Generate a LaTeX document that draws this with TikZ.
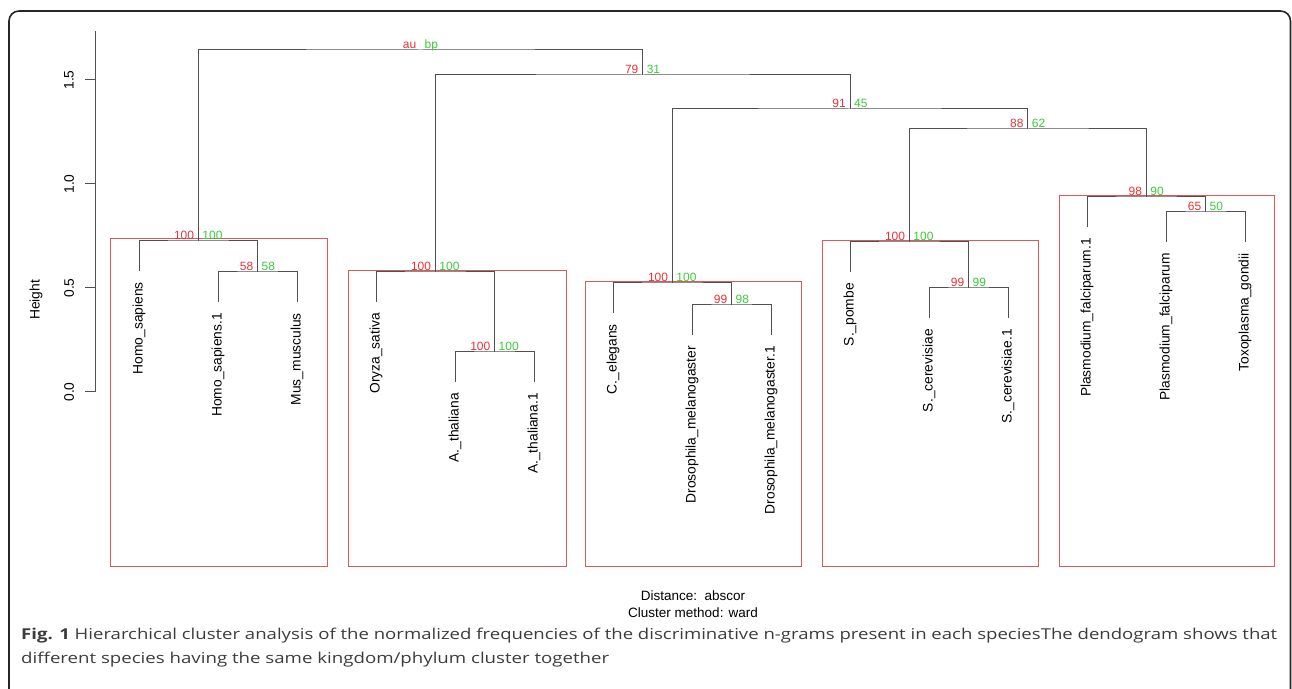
\documentclass[tikz,border=0pt]{standalone}
\usepackage{graphicx}
\usepackage{fontspec}
\setmainfont{Liberation Sans}
\newfontfamily\capfont{Open Sans}
\definecolor{treegray}{RGB}{80,80,80}
\definecolor{aured}{RGB}{232,50,55}
\definecolor{bpgreen}{RGB}{55,205,55}
\definecolor{boxred}{RGB}{220,90,90}
\definecolor{captext}{RGB}{60,60,60}
\tikzset{dendro/.style={draw=treegray,line width=1pt},
  leaflab/.style={rotate=90,anchor=east,inner sep=0pt,font=\fontsize{13.8}{16}\selectfont},
  aulab/.style={anchor=base east,inner sep=0pt,xshift=-4pt,yshift=1.5pt,text=aured,font=\fontsize{12}{14}\selectfont},
  bplab/.style={anchor=base west,inner sep=0pt,xshift=4pt,yshift=1.5pt,text=bpgreen,font=\fontsize{12}{14}\selectfont},
  clusterbox/.style={draw=boxred,line width=0.9pt},
  ticklab/.style={rotate=90,inner sep=0pt,font=\fontsize{13.8}{16}\selectfont},
  caption/.style={anchor=base west,inner sep=0pt,text=captext,font=\capfont\fontsize{15}{18}\selectfont}}

\begin{document}
\begin{tikzpicture}[x=1pt,y=1pt]
\useasboundingbox (0,0) rectangle (1292,688);
\draw[line width=1.6pt,black!85,rounded corners=10pt] (9,-5) -- (9,677) -- (1290.5,677) -- (1290.5,-5);

% axis
\draw[dendro] (95,296) -- (95,657);
\draw[dendro] (85,296) -- (95,296);
\draw[dendro] (85,400) -- (95,400);
\draw[dendro] (85,504) -- (95,504);
\draw[dendro] (85,608) -- (95,608);
\node[ticklab] (y0) at (69,296) {0.0};
\node[ticklab] (y1) at (69,400) {0.5};
\node[ticklab] (y2) at (69,504) {1.0};
\node[ticklab] (y3) at (69,608) {1.5};
\node[ticklab] (ylab) at (36,388) {Height};

% cluster boxes
\draw[clusterbox] (110,122) rectangle (327,450);
\draw[clusterbox] (348,122) rectangle (566,418);
\draw[clusterbox] (585,122) rectangle (801,407);
\draw[clusterbox] (822,122) rectangle (1038,448);
\draw[clusterbox] (1059,122) rectangle (1274,493);

% leaves
\coordinate (L1) at (139,417);
\coordinate (L2) at (218,386);
\coordinate (L3) at (297,386);
\coordinate (L4) at (376,386);
\coordinate (L5) at (455,306);
\coordinate (L6) at (534,306);
\coordinate (L7) at (613,375);
\coordinate (L8) at (692,353);
\coordinate (L9) at (771,353);
\coordinate (L10) at (850,416);
\coordinate (L11) at (929,370);
\coordinate (L12) at (1008,370);
\coordinate (L13) at (1087,461);
\coordinate (L14) at (1166,446);
\coordinate (L15) at (1245,446);

% merges
\coordinate (m58) at (257.5,416);
\coordinate (mHomo) at (198.25,447);
\coordinate (mAth) at (494.5,336);
\coordinate (mOry) at (435.25,416);
\coordinate (mDro) at (731.5,383);
\coordinate (mCel) at (672.25,405);
\coordinate (mScer) at (968.5,400);
\coordinate (mSpo) at (909.25,446);
\coordinate (m65) at (1205.5,476);
\coordinate (m98) at (1146.25,491);
\coordinate (m88) at (1027.75,559);
\coordinate (m91) at (850,579);
\coordinate (m79) at (642.6,613);
\coordinate (mRoot) at (420.4,638);

% edges
\draw[dendro] (L2) |- (m58) -| (L3);
\draw[dendro] (L1) |- (mHomo) -| (m58);
\draw[dendro] (L5) |- (mAth) -| (L6);
\draw[dendro] (L4) |- (mOry) -| (mAth);
\draw[dendro] (L8) |- (mDro) -| (L9);
\draw[dendro] (L7) |- (mCel) -| (mDro);
\draw[dendro] (L11) |- (mScer) -| (L12);
\draw[dendro] (L10) |- (mSpo) -| (mScer);
\draw[dendro] (L14) |- (m65) -| (L15);
\draw[dendro] (L13) |- (m98) -| (m65);
\draw[dendro] (mSpo) |- (m88) -| (m98);
\draw[dendro] (mCel) |- (m91) -| (m88);
\draw[dendro] (mOry) |- (m79) -| (m91);
\draw[dendro] (mHomo) |- (mRoot) -| (m79);

% au / bp values
\node[aulab] (auRoot) at (mRoot) {au};   \node[bplab] (bpRoot) at (mRoot) {bp};
\node[aulab] (au79) at (m79) {79};       \node[bplab] (bp79) at (m79) {31};
\node[aulab] (au91) at (m91) {91};       \node[bplab] (bp91) at (m91) {45};
\node[aulab] (au88) at (m88) {88};       \node[bplab] (bp88) at (m88) {62};
\node[aulab] (au98) at (m98) {98};       \node[bplab] (bp98) at (m98) {90};
\node[aulab] (au65) at (m65) {65};       \node[bplab] (bp65) at (m65) {50};
\node[aulab] (auSpo) at (mSpo) {100};    \node[bplab] (bpSpo) at (mSpo) {100};
\node[aulab] (auScer) at (mScer) {99};   \node[bplab] (bpScer) at (mScer) {99};
\node[aulab] (auCel) at (mCel) {100};    \node[bplab] (bpCel) at (mCel) {100};
\node[aulab] (auDro) at (mDro) {99};     \node[bplab] (bpDro) at (mDro) {98};
\node[aulab] (auOry) at (mOry) {100};    \node[bplab] (bpOry) at (mOry) {100};
\node[aulab] (auAth) at (mAth) {100};    \node[bplab] (bpAth) at (mAth) {100};
\node[aulab] (auHomo) at (mHomo) {100};  \node[bplab] (bpHomo) at (mHomo) {100};
\node[aulab] (au58) at (m58) {58};       \node[bplab] (bp58) at (m58) {58};

% leaf labels
\path (L1) ++(0,-11) node[leaflab] (t1) {Homo\_sapiens};
\path (L2) ++(0,-11) node[leaflab] (t2) {Homo\_sapiens.1};
\path (L3) ++(0,-11) node[leaflab] (t3) {Mus\_musculus};
\path (L4) ++(0,-11) node[leaflab] (t4) {Oryza\_sativa};
\path (L5) ++(0,-11) node[leaflab] (t5) {A.\_thaliana};
\path (L6) ++(0,-11) node[leaflab] (t6) {A.\_thaliana.1};
\path (L7) ++(0,-11) node[leaflab] (t7) {C.\_elegans};
\path (L8) ++(0,-11) node[leaflab] (t8) {Drosophila\_melanogaster};
\path (L9) ++(0,-11) node[leaflab] (t9) {Drosophila\_melanogaster.1};
\path (L10) ++(0,-11) node[leaflab] (t10) {S.\_pombe};
\path (L11) ++(0,-11) node[leaflab] (t11) {S.\_cerevisiae};
\path (L12) ++(0,-11) node[leaflab] (t12) {S.\_cerevisiae.1};
\path (L13) ++(0,-11) node[leaflab] (t13) {Plasmodium\_falciparum.1};
\path (L14) ++(0,-11) node[leaflab] (t14) {Plasmodium\_falciparum};
\path (L15) ++(0,-11) node[leaflab] (t15) {Toxoplasma\_gondii};

% sub title and caption
\node[align=center,inner sep=0pt,font=\fontsize{13.5}{16.5}\selectfont] (dist) at (693,84) {Distance:\ \ abscor\\Cluster method: ward};
\node[caption] (cap1) at (21,49)
  {\resizebox{1256pt}{\height}{\textbf{Fig. 1} Hierarchical cluster analysis of the normalized frequencies of the discriminative n-grams present in each speciesThe dendogram shows that}};
\node[caption] (cap2) at (21,25)
  {\resizebox{588pt}{\height}{different species having the same kingdom/phylum cluster together}};
\end{tikzpicture}
\end{document}
